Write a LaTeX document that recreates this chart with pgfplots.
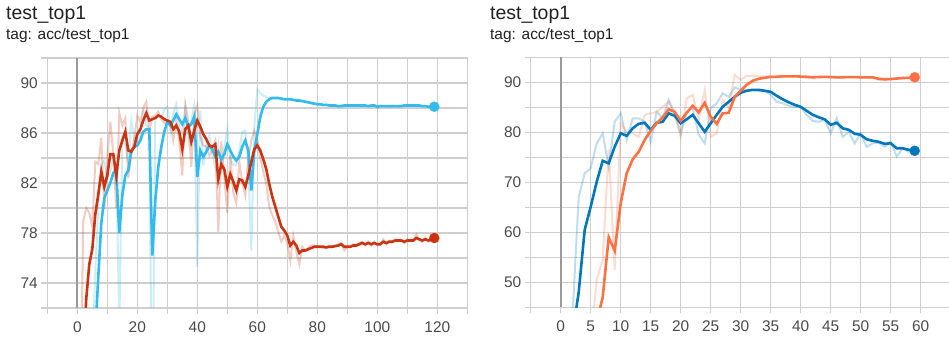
\documentclass[border=0pt]{standalone}
\usepackage{fontspec}
\setmainfont{Liberation Sans}
\usepackage{pgfplots}
\pgfplotsset{compat=1.18}
\definecolor{cyanc}{HTML}{33BBEE}
\definecolor{redc}{HTML}{CC3311}
\definecolor{bluec}{HTML}{0077BB}
\definecolor{orangec}{HTML}{FF7043}
\definecolor{gridc}{HTML}{CFCFCF}
\definecolor{zeroc}{HTML}{9A9A9A}
\definecolor{labelc}{HTML}{4A4A4A}
\definecolor{titlec}{HTML}{212121}
\pgfplotsset{
  tbstyle/.style={
    scale only axis, anchor=south west,
    grid=both,
    major grid style={gridc, line width=1.3bp},
    minor grid style={gridc, line width=1.3bp},
    axis line style={gridc, line width=1.3bp},
    tick style={gridc, line width=1.3bp},
    tick align=outside,
    major tick length=6bp, minor tick length=6bp,
    xtick pos=bottom, ytick pos=left,
    ticklabel style={font=\fontsize{15.5}{18}\selectfont, text=labelc},
    xticklabel style={yshift=-4bp},
    /pgf/number format/assume math mode=true,
    clip=true,
  },
  rawline/.style={line width=2bp, opacity=0.25},
  smoothline/.style={line width=2.6bp},
}
\begin{document}
\begin{tikzpicture}
\useasboundingbox (0bp,0bp) rectangle (949bp,341bp);
\node[anchor=base west, inner sep=0, text=titlec, font=\fontsize{19.5}{22}\selectfont] at (6bp,321bp) {test\_top1};
\node[anchor=base west, inner sep=0, text=titlec, font=\fontsize{15.5}{18}\selectfont] at (6bp,301bp) {tag: acc/test\_top1};
\node[anchor=base west, inner sep=0, text=titlec, font=\fontsize{19.5}{22}\selectfont] at (490bp,321bp) {test\_top1};
\node[anchor=base west, inner sep=0, text=titlec, font=\fontsize{15.5}{18}\selectfont] at (490bp,301bp) {tag: acc/test\_top1};

\begin{axis}[tbstyle, at={(47.3bp,33bp)}, width=420bp, height=250bp,
  xmin=-10, xmax=130, ymin=72, ymax=92,
  xtick={0,20,...,120}, minor xtick={-10,10,...,130},
  ytick={74,78,...,90}, minor ytick={72,76,...,92}]
\addplot[zeroc, line width=2bp, forget plot] coordinates {(0,72) (0,92)};
\addplot[rawline, cyanc] coordinates {(0,50)(1,56)(2,59)(3,63)(4,66)(5,68)(6,75)(7,80.0)(8,83.5)(9,83.8)(10,82.3)(11,82.9)(12,84.0)(13,83.3)(14,70.5)(15,85.5)(16,85.0)(17,83.6)(18,87.0)(19,85.4)(20,85.2)(21,86.0)(22,87.6)(23,86.6)(24,86.3)(25,61)(26,87.2)(27,87.3)(28,87.3)(29,87.9)(30,88.1)(31,86.2)(32,87.6)(33,88.3)(34,86.5)(35,86.1)(36,88.0)(37,85.5)(38,87.0)(39,88.2)(40,75.3)(41,87.8)(42,83.4)(43,85.1)(44,85.8)(45,84.3)(46,83.2)(47,85.1)(48,83.0)(49,84.9)(50,86.3)(51,83.9)(52,83.4)(53,83.4)(54,84.6)(55,86.1)(56,86.2)(57,83.4)(58,76.6)(59,86.5)(60,89.5)(61,89.2)(62,89.0)(63,88.9)(64,88.8)(65,88.8)(66,88.8)(67,88.8)(68,88.7)(69,88.7)(70,88.7)(71,88.7)(72,88.6)(73,88.6)(74,88.6)(75,88.5)(76,88.5)(77,88.4)(78,88.4)(79,88.3)(80,88.3)(81,88.3)(82,88.2)(83,88.3)(84,88.2)(85,88.2)(86,88.2)(87,88.1)(88,88.2)(89,88.2)(90,88.2)(91,88.2)(92,88.2)(93,88.2)(94,88.25)(95,88.2)(96,88.2)(97,88.1)(98,88.2)(99,88.2)(100,88.0)(101,88.2)(102,88.15)(103,88.15)(104,88.1)(105,88.2)(106,88.15)(107,88.1)(108,88.2)(109,88.2)(110,88.25)(111,88.2)(112,88.2)(113,88.2)(114,88.25)(115,88.1)(116,88.15)(117,88.1)(118,88.1)(119,88.1)};
\addplot[rawline, redc] coordinates {(0,58)(1,64)(2,79)(3,80.0)(4,79.6)(5,78.5)(6,83.7)(7,83.5)(8,85.6)(9,79.9)(10,84.0)(11,86.9)(12,84.3)(13,80.0)(14,87.6)(15,86.6)(16,87.2)(17,82.4)(18,84.3)(19,85.5)(20,87.4)(21,86.9)(22,88.0)(23,88.5)(24,86.1)(25,87.3)(26,87.4)(27,87.7)(28,87.1)(29,86.8)(30,86.8)(31,86.7)(32,85.4)(33,87.0)(34,85.3)(35,82.6)(36,88.3)(37,87.0)(38,83.3)(39,87.5)(40,88.2)(41,85.7)(42,85.0)(43,84.9)(44,84.2)(45,84.7)(46,85.4)(47,78.1)(48,85.3)(49,82.5)(50,79.6)(51,84.2)(52,81.2)(53,80.4)(54,83.7)(55,82.0)(56,81.0)(57,84.0)(58,85.4)(59,86.2)(60,85.5)(61,84.0)(62,82.9)(63,81.9)(64,80.1)(65,79.4)(66,78.9)(67,78.1)(68,77.3)(69,77.8)(70,77.2)(71,75.8)(72,77.75)(73,76.5)(74,75.5)(75,76.9)(76,76.6)(77,76.85)(78,77.0)(79,77.0)(80,76.9)(81,76.9)(82,76.8)(83,76.8)(84,77.0)(85,76.9)(86,77.0)(87,77.1)(88,77.2)(89,76.6)(90,76.9)(91,76.9)(92,77.1)(93,77.0)(94,77.2)(95,77.3)(96,77.0)(97,77.3)(98,77.0)(99,77.3)(100,77.0)(101,77.1)(102,77.5)(103,77.1)(104,77.4)(105,77.3)(106,77.5)(107,77.4)(108,77.4)(109,77.2)(110,77.5)(111,77.4)(112,77.4)(113,77.9)(114,77.4)(115,77.3)(116,77.6)(117,77.3)(118,77.6)(119,77.7)};
\addplot[smoothline, cyanc] coordinates {(0,50)(1,54)(2,57)(3,60)(4,63)(5,66)(6,70.0)(7,74.5)(8,78.8)(9,80.8)(10,81.4)(11,82.0)(12,82.8)(13,83.0)(14,78.0)(15,81.0)(16,82.6)(17,83.0)(18,84.6)(19,84.9)(20,85.0)(21,85.4)(22,86.1)(23,86.3)(24,86.3)(25,76.2)(26,80.6)(27,83.3)(28,84.9)(29,86.1)(30,86.9)(31,86.6)(32,87.0)(33,87.5)(34,87.1)(35,86.7)(36,87.2)(37,86.5)(38,86.7)(39,87.3)(40,82.5)(41,84.6)(42,84.1)(43,84.5)(44,85.0)(45,84.7)(46,84.1)(47,84.5)(48,83.9)(49,84.3)(50,85.1)(51,84.6)(52,84.1)(53,83.8)(54,84.1)(55,84.9)(56,85.4)(57,84.6)(58,81.4)(59,84.6)(60,85.9)(61,87.3)(62,88.1)(63,88.5)(64,88.7)(65,88.8)(66,88.8)(67,88.8)(68,88.75)(69,88.7)(70,88.7)(71,88.7)(72,88.65)(73,88.6)(74,88.6)(75,88.55)(76,88.5)(77,88.45)(78,88.4)(79,88.35)(80,88.3)(81,88.3)(82,88.25)(83,88.25)(84,88.2)(85,88.2)(86,88.2)(87,88.15)(88,88.15)(89,88.2)(90,88.2)(91,88.2)(92,88.2)(93,88.2)(94,88.2)(95,88.2)(96,88.2)(97,88.15)(98,88.2)(99,88.2)(100,88.1)(101,88.15)(102,88.15)(103,88.15)(104,88.15)(105,88.15)(106,88.15)(107,88.15)(108,88.15)(109,88.2)(110,88.2)(111,88.2)(112,88.2)(113,88.2)(114,88.2)(115,88.15)(116,88.15)(117,88.1)(118,88.1)(119,88.1)};
\addplot[smoothline, redc] coordinates {(0,58)(1,62)(2,68)(3,72.8)(4,75.5)(5,76.7)(6,79.5)(7,81.1)(8,82.9)(9,81.7)(10,82.6)(11,84.3)(12,84.3)(13,82.6)(14,84.6)(15,85.4)(16,86.1)(17,84.6)(18,84.5)(19,84.9)(20,85.9)(21,86.3)(22,87.0)(23,87.6)(24,87.0)(25,87.1)(26,87.2)(27,87.4)(28,87.3)(29,87.1)(30,87.0)(31,86.9)(32,86.3)(33,86.6)(34,86.1)(35,84.7)(36,86.3)(37,86.6)(38,85.3)(39,86.2)(40,87.0)(41,86.5)(42,85.9)(43,85.5)(44,85.0)(45,84.9)(46,85.1)(47,82.3)(48,83.5)(49,83.1)(50,81.7)(51,82.7)(52,82.1)(53,81.4)(54,82.3)(55,82.2)(56,81.7)(57,82.6)(58,83.7)(59,84.7)(60,85.0)(61,84.6)(62,83.9)(63,83.1)(64,81.9)(65,80.9)(66,80.1)(67,79.3)(68,78.5)(69,78.2)(70,77.8)(71,77.0)(72,77.3)(73,77.0)(74,76.4)(75,76.6)(76,76.6)(77,76.7)(78,76.8)(79,76.9)(80,76.9)(81,76.9)(82,76.9)(83,76.85)(84,76.9)(85,76.9)(86,76.95)(87,77.0)(88,77.1)(89,76.9)(90,76.9)(91,76.9)(92,77.0)(93,77.0)(94,77.1)(95,77.2)(96,77.1)(97,77.2)(98,77.1)(99,77.2)(100,77.1)(101,77.1)(102,77.3)(103,77.2)(104,77.3)(105,77.3)(106,77.4)(107,77.4)(108,77.4)(109,77.3)(110,77.4)(111,77.4)(112,77.4)(113,77.6)(114,77.5)(115,77.4)(116,77.5)(117,77.4)(118,77.5)(119,77.6)};
\addplot[only marks, mark=*, mark size=5bp, cyanc] coordinates {(119,88.1)};
\addplot[only marks, mark=*, mark size=5bp, redc] coordinates {(119,77.6)};
\end{axis}

\begin{axis}[tbstyle, at={(530.7bp,33.7bp)}, width=420bp, height=250bp,
  xmin=-5, xmax=65, ymin=45, ymax=95,
  xtick={0,5,...,60}, minor xtick={-5,65},
  ytick={50,60,...,90}, minor ytick={45,55,...,95}]
\addplot[zeroc, line width=2bp, forget plot] coordinates {(0,45) (0,95)};
\addplot[rawline, bluec] coordinates {(0,20)(1,32)(2,44)(3,67.1)(4,71.8)(5,72.8)(6,77.8)(7,79.8)(8,73.1)(9,82.1)(10,83.8)(11,78.5)(12,82.8)(13,82.8)(14,82.1)(15,78.1)(16,84.1)(17,82.8)(18,86.5)(19,83.8)(20,79.8)(21,84.1)(22,84.8)(23,79.5)(24,77.8)(25,84.8)(26,85.8)(27,87.8)(28,87.1)(29,89.0)(30,88.5)(31,88.4)(32,88.4)(33,88.3)(34,88.3)(35,87.5)(36,86.1)(37,85.8)(38,85.3)(39,85.1)(40,85.0)(41,83.5)(42,82.3)(43,82.1)(44,82.5)(45,79.8)(46,82.8)(47,79.1)(48,80.1)(49,77.8)(50,79.8)(51,77.1)(52,77.8)(53,77.9)(54,77.1)(55,78.1)(56,75.1)(57,76.8)(58,76.1)(59,75.5)};
\addplot[rawline, orangec] coordinates {(0,10)(1,15)(2,20)(3,25)(4,30)(5,38)(6,50.5)(7,54.5)(8,76.5)(9,52.5)(10,81.8)(11,80.1)(12,79.8)(13,79.1)(14,83.5)(15,83.8)(16,84.1)(17,85.1)(18,86.1)(19,83.5)(20,79.1)(21,86.8)(22,87.5)(23,82.5)(24,88.5)(25,79.1)(26,79.8)(27,86.5)(28,85.1)(29,91.5)(30,90.5)(31,91.3)(32,91.3)(33,91.2)(34,91.2)(35,91.2)(36,91.2)(37,91.2)(38,91.2)(39,91.2)(40,91.1)(41,91.0)(42,90.9)(43,91.1)(44,91.1)(45,91.0)(46,91.0)(47,91.0)(48,91.1)(49,91.0)(50,91.0)(51,91.0)(52,91.0)(53,90.5)(54,90.5)(55,90.6)(56,90.8)(57,90.9)(58,90.9)(59,91.0)};
\addplot[smoothline, bluec] coordinates {(0,20)(1,30)(2,40)(3,48)(4,60.5)(5,65.1)(6,70.1)(7,74.3)(8,73.8)(9,77.1)(10,79.8)(11,79.3)(12,80.8)(13,81.7)(14,81.9)(15,80.5)(16,81.9)(17,82.1)(18,83.8)(19,83.3)(20,81.8)(21,82.6)(22,83.5)(23,81.8)(24,80.1)(25,81.8)(26,83.5)(27,85.1)(28,86.1)(29,87.1)(30,87.9)(31,88.3)(32,88.5)(33,88.5)(34,88.3)(35,88.1)(36,87.3)(37,86.6)(38,86.0)(39,85.5)(40,85.1)(41,84.3)(42,83.5)(43,83.0)(44,82.6)(45,81.5)(46,81.9)(47,80.8)(48,80.5)(49,79.7)(50,79.5)(51,78.6)(52,78.3)(53,78.1)(54,77.7)(55,77.8)(56,76.8)(57,76.8)(58,76.5)(59,76.3)};
\addplot[smoothline, orangec] coordinates {(0,10)(1,15)(2,20)(3,25)(4,30)(5,35)(6,42)(7,47)(8,59.0)(9,56.3)(10,65.8)(11,71.8)(12,74.6)(13,76.1)(14,78.5)(15,80.3)(16,81.8)(17,83.0)(18,84.6)(19,84.1)(20,82.3)(21,83.9)(22,85.3)(23,84.0)(24,85.9)(25,83.1)(26,81.7)(27,83.8)(28,83.9)(29,87.1)(30,88.3)(31,89.5)(32,90.3)(33,90.7)(34,90.9)(35,91.1)(36,91.1)(37,91.2)(38,91.2)(39,91.2)(40,91.15)(41,91.1)(42,91.0)(43,91.05)(44,91.1)(45,91.05)(46,91.0)(47,91.0)(48,91.05)(49,91.05)(50,91.0)(51,91.0)(52,91.0)(53,90.7)(54,90.6)(55,90.65)(56,90.75)(57,90.85)(58,90.9)(59,91.0)};
\addplot[only marks, mark=*, mark size=5bp, orangec] coordinates {(59,91.0)};
\addplot[only marks, mark=*, mark size=5bp, bluec] coordinates {(59,76.3)};
\end{axis}
\end{tikzpicture}
\end{document}
